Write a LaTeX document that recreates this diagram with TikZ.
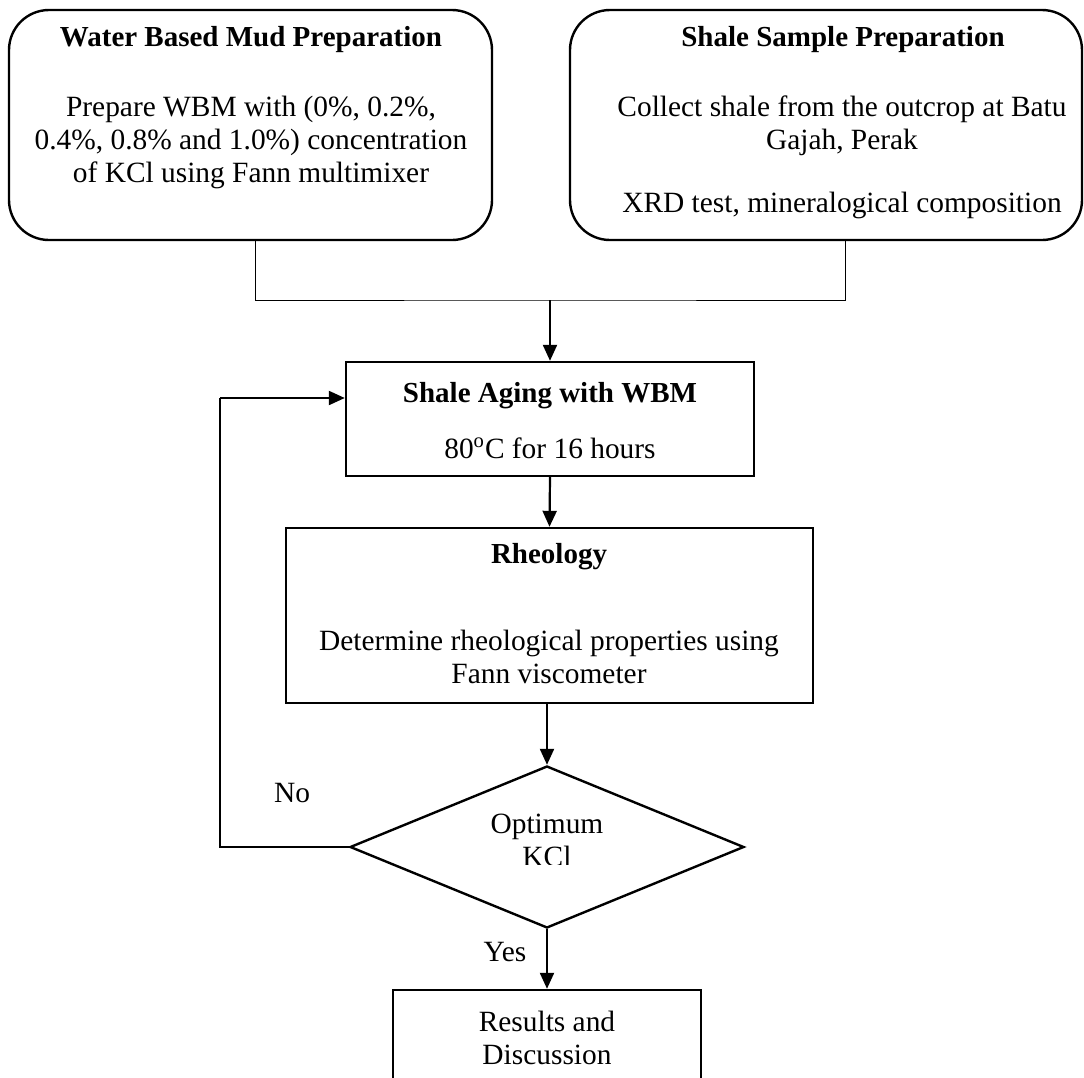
\documentclass[tikz,border=0pt]{standalone}
\usepackage{fontspec}
\setmainfont{Liberation Serif}
\usetikzlibrary{shapes.geometric,arrows.meta}

\begin{document}
\begin{tikzpicture}[x=0.5pt,y=-0.5pt,
    font=\fontsize{14.7}{16.5}\selectfont,
    roundbox/.style={draw,line width=1.2pt,rounded corners=20pt,inner sep=0pt},
    plainbox/.style={draw,line width=1.2pt,inner sep=0pt},
    txt/.style={align=center,inner sep=0pt},
    hd/.style={txt,font=\fontsize{14.5}{16.5}\selectfont\bfseries},
    thinline/.style={line width=0.5pt},
    loopline/.style={line width=0.7pt},
    arrowline/.style={line width=1.1pt,-{Triangle[length=8pt,width=7pt]}}]
    \useasboundingbox (0,0) rectangle (1084,1078);
    \node[roundbox,minimum width=241.5pt,minimum height=115pt] (mud) at (250.5,125) {};
    \node[hd] (mudhead) at (251,40) {Water Based Mud Preparation};
    \node[txt] (mudtext) at (251,142) {Prepare WBM with (0\%, 0.2\%,\\0.4\%, 0.8\% and 1.0\%) concentration\\of KCl using Fann multimixer};
    \node[roundbox,minimum width=256pt,minimum height=115pt] (shale) at (826,125) {};
    \node[hd] (shalehead) at (843,40) {Shale Sample Preparation};
    \node[txt] (shaletext) at (842,157) {Collect shale from the outcrop at Batu\\Gajah, Perak\\[15pt]XRD test, mineralogical composition};
    \node[plainbox,minimum width=204pt,minimum height=57pt] (aging) at (550,419) {};
    \node[hd] (aginghead) at (550,396) {Shale Aging with WBM};
    \node[txt] (agingtext) at (550,448) {80\textsuperscript{o}C for 16 hours};
    \node[plainbox,minimum width=263.5pt,minimum height=87.5pt] (rheo) at (549.5,615.5) {};
    \node[hd] (rheohead) at (549,557) {Rheology};
    \node[txt] (rheotext) at (549,656.5) {Determine rheological properties using\\Fann viscometer};
    \node[diamond,draw,line width=1.2pt,minimum width=197pt,minimum height=81pt,inner sep=0pt] (decide) at (547,847) {};
    \begin{scope}
        \clip (430,780) rectangle (670,864);
        \node[txt] (decidetext) at (547,840) {Optimum\\KCl};
    \end{scope}
    \node[plainbox,txt,minimum width=154pt,minimum height=48pt] (result) at (547,1038) {Results and\\Discussion};
    \node[txt] (nolabel) at (292,793) {No};
    \node[txt] (yeslabel) at (505,952) {Yes};
    \coordinate (join) at (550,300);
    \coordinate (looptop) at (220,398);
    \draw[thinline] ([xshift=2.25pt]mud.south) |- (join) -| ([xshift=9.5pt]shale.south);
    \draw[arrowline] (join) -- (aging.north);
    \draw[arrowline] (aging.south) -- (rheo.north);
    \draw[arrowline] (rheo.south -| decide.north) -- (decide.north);
    \draw[arrowline] (decide.south) -- (result.north);
    \draw[loopline] (decide.west) -| (looptop);
    \draw[arrowline] (looptop) -- (looptop -| aging.west);
\end{tikzpicture}
\end{document}
